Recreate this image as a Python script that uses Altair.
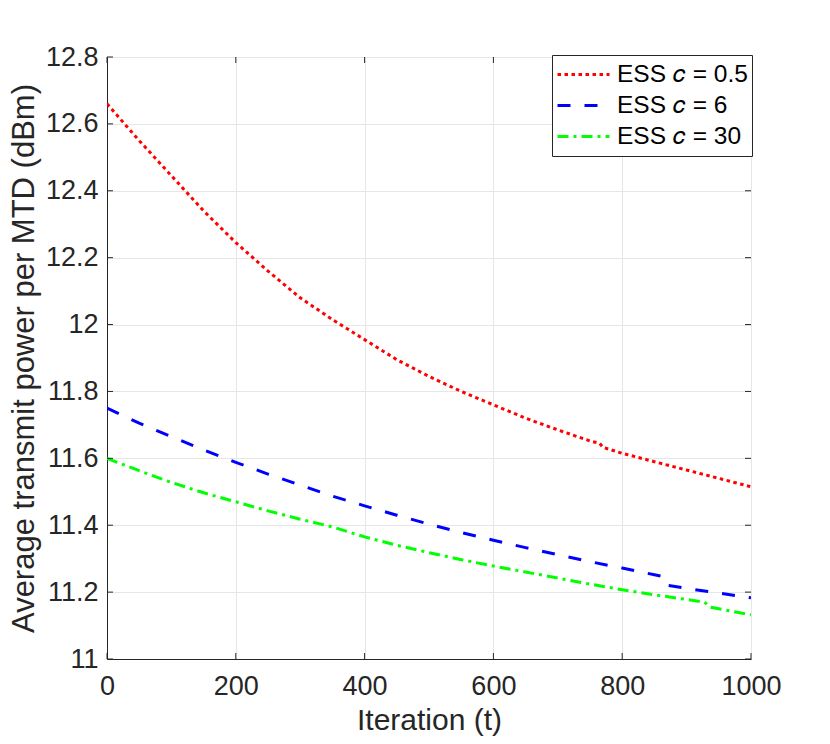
import altair as alt
import pandas as pd

# ---- data ----
t_red = [0, 50, 100, 150, 200, 250, 300, 350, 400, 450, 500, 550, 600, 650, 700, 750, 765, 770, 800, 850, 900, 950, 1000]
p_red = [12.66, 12.55, 12.445, 12.34, 12.245, 12.16, 12.08, 12.015, 11.955, 11.895, 11.845, 11.80, 11.76, 11.72,
         11.685, 11.652, 11.645, 11.633, 11.615, 11.59, 11.565, 11.54, 11.515]

t_blue = [0, 50, 100, 150, 200, 250, 300, 350, 400, 450, 500, 550, 600, 650, 700, 750, 800, 850, 867, 872, 900, 950, 1000]
p_blue = [11.75, 11.705, 11.665, 11.625, 11.588, 11.553, 11.52, 11.487, 11.458, 11.43, 11.403, 11.378, 11.355,
          11.333, 11.312, 11.291, 11.272, 11.252, 11.245, 11.22, 11.211, 11.197, 11.183]

t_green = [0, 50, 100, 150, 200, 250, 300, 350, 400, 450, 500, 550, 600, 650, 700, 750, 800, 850, 900, 928, 936, 950, 1000]
p_green = [11.60, 11.563, 11.528, 11.497, 11.47, 11.443, 11.418, 11.395, 11.365, 11.34, 11.318, 11.297, 11.278,
           11.26, 11.242, 11.224, 11.207, 11.192, 11.178, 11.17, 11.155, 11.15, 11.132]

series_names = ["ESS \U0001D450 = 0.5", "ESS \U0001D450 = 6", "ESS \U0001D450 = 30"]
series_colors = ["#FF0000", "#0000FF", "#00FF00"]
series_dash = [[3.5, 3.5], [13, 14], [11, 5, 3, 5]]

x_ticks = [0, 200, 400, 600, 800, 1000]
y_ticks = [11, 11.2, 11.4, 11.6, 11.8, 12, 12.2, 12.4, 12.6, 12.8]

rows = []
for name, ts, ps in zip(series_names, [t_red, t_blue, t_green], [p_red, p_blue, p_green]):
    for t, p in zip(ts, ps):
        rows.append({"t": t, "p": p, "series": name})
df = pd.DataFrame(rows)

W, H = 644, 602
FONT = "Liberation Sans"
AX = "#262626"

xscale = alt.Scale(domain=[0, 1000], nice=False)
yscale = alt.Scale(domain=[11, 12.8], nice=False, zero=False)

lines = alt.Chart(df).mark_line(strokeWidth=3, clip=True, strokeCap="butt").encode(
    x=alt.X("t:Q", scale=xscale, title="Iteration (t)",
            axis=alt.Axis(values=x_ticks, format="d", grid=True, ticks=False, labelPadding=14,
                          labelFlush=False, labelOverlap=False)),
    y=alt.Y("p:Q", scale=yscale, title="Average transmit power per MTD (dBm)",
            axis=alt.Axis(values=y_ticks, format="~g", grid=True, ticks=False, labelPadding=9,
                          labelFlush=False, labelOverlap=False)),
    color=alt.Color("series:N", scale=alt.Scale(domain=series_names, range=series_colors), title=None,
                    legend=alt.Legend(orient="none", legendX=445, legendY=-2, symbolType="stroke",
                                      symbolSize=2704, symbolStrokeWidth=3, clipHeight=31,
                                      labelFontSize=24.5, labelFont=FONT, labelColor="black",
                                      strokeColor=AX, fillColor="white", padding=4, labelOffset=6,
                                      rowPadding=0, labelLimit=300)),
    strokeDash=alt.StrokeDash("series:N", scale=alt.Scale(domain=series_names, range=series_dash), legend=None),
)

xt = pd.DataFrame({"v": x_ticks})
yt = pd.DataFrame({"v": y_ticks})
tick_b = alt.Chart(xt).mark_rule(color=AX, strokeWidth=1).encode(
    x=alt.X("v:Q", scale=xscale), y=alt.value(H), y2=alt.value(H - 6))
tick_t = alt.Chart(xt).mark_rule(color=AX, strokeWidth=1).encode(
    x=alt.X("v:Q", scale=xscale), y=alt.value(0), y2=alt.value(6))
tick_l = alt.Chart(yt).mark_rule(color=AX, strokeWidth=1).encode(
    y=alt.Y("v:Q", scale=yscale), x=alt.value(0), x2=alt.value(6))
tick_r = alt.Chart(yt).mark_rule(color=AX, strokeWidth=1).encode(
    y=alt.Y("v:Q", scale=yscale), x=alt.value(W), x2=alt.value(W - 6))

chart = alt.layer(lines, tick_b, tick_t, tick_l, tick_r).properties(
    width=W, height=H,
    autosize=alt.AutoSizeParams(type="none"),
    padding={"left": 99, "top": 49, "right": 71, "bottom": 77},
    background="white",
).configure_view(stroke=AX, strokeWidth=1).configure_axis(
    domainColor=AX, labelColor=AX, titleColor=AX, labelFont=FONT, titleFont=FONT,
    labelFontSize=27, titleFontWeight="normal", gridColor="#e6e6e6", gridWidth=1,
).configure_axisX(titlePadding=6, titleFontSize=30).configure_axisY(titlePadding=5, titleFontSize=31)

chart.save("out.html", embed_options={"renderer": "svg", "actions": False})
